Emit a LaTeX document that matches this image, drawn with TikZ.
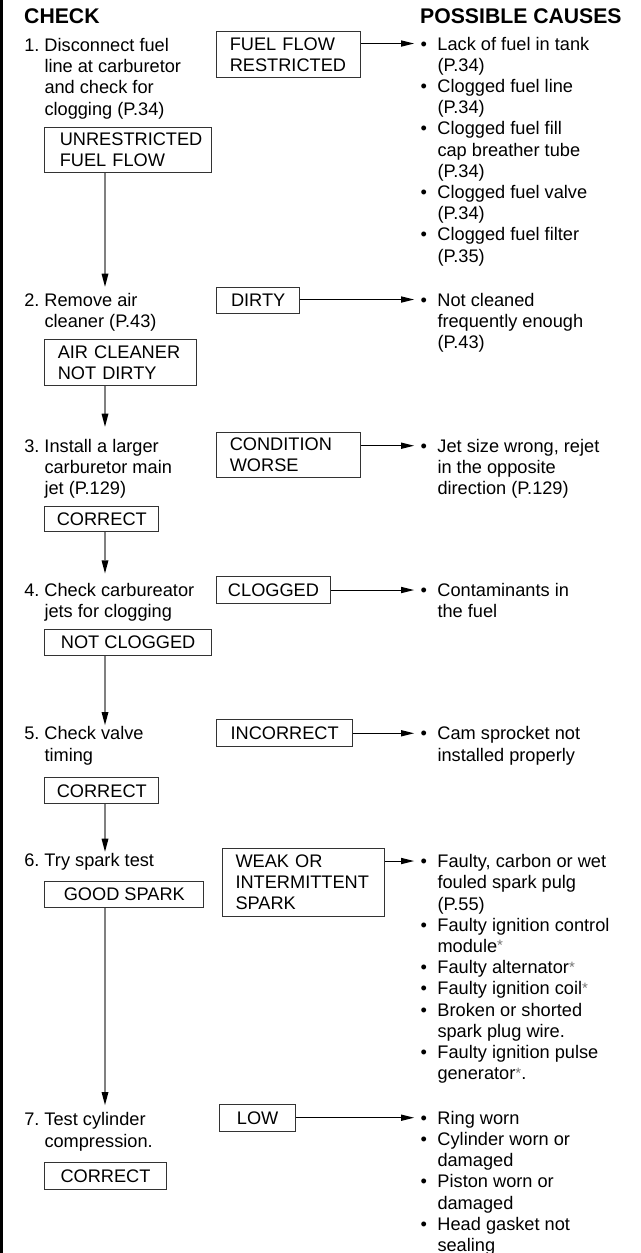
\documentclass[tikz,border=0pt]{standalone}
\usepackage{fontspec}
\setmainfont{Liberation Sans}
\usetikzlibrary{arrows.meta,positioning}

\newcommand{\bodyfont}{\fontsize{18.2pt}{21.2pt}\selectfont}
\newcommand{\headfont}{\fontsize{21.2pt}{24pt}\selectfont\bfseries}
\newcommand{\itm}{\llap{\textbullet\hspace{10.5pt}}}
\newcommand{\stepno}[1]{\llap{#1\ }}
\newcommand{\starmark}{\textcolor{black!55}{\fontsize{15pt}{15pt}\selectfont\raisebox{0.1em}{*}}}

\tikzset{
  check/.style={anchor=north west, inner sep=0pt, align=left, font=\bodyfont},
  cause/.style={anchor=north west, inner sep=0pt, align=left, font=\bodyfont},
  head/.style={anchor=base west, inner sep=0pt, font=\headfont},
  result/.style={draw=black!80, line width=1pt, anchor=north west, inner sep=0pt, font=\bodyfont},
  flow/.style={draw=black!50, line width=1.8pt,
    -{Triangle[length=13pt,width=7pt,color=black,fill=black,line width=0pt]}},
  lead/.style={draw=black, line width=0.9pt,
    -{Triangle[length=13pt,width=6.5pt,color=black,fill=black,line width=0pt]}},
}

\begin{document}
\begin{tikzpicture}[x=1pt,y=-1pt]
\useasboundingbox (0,0) rectangle (640,1253);
\fill[black] (0,0) rectangle (3,1253);

% Headings
\node[head] (hcheck) at (24,23.3) {CHECK};
\node[head] (hcause) at (420,23.3) {POSSIBLE CAUSES};

% Checks
\node[check] (s1) at (44.3,38.2) {\stepno{1.}Disconnect fuel\\line at carburetor\\and check for\\clogging (P.34)};
\node[check] (s2) at (44.3,293.2) {\stepno{2.}Remove air\\cleaner (P.43)};
\node[check] (s3) at (44.3,438.9) {\stepno{3.}Install a larger\\carburetor main\\jet (P.129)};
\node[check] (s4) at (44.3,583.2) {\stepno{4.}Check carbureator\\jets for clogging};
\node[check] (s5) at (44.3,726.5) {\stepno{5.}Check valve\\timing};
\node[check] (s6) at (44.3,853.2) {\stepno{6.}Try spark test};
\node[check] (s7) at (44.3,1112.5) {\stepno{7.}Test cylinder\\compression.};

% Results that pass
\node[result, minimum width=166.7pt, minimum height=45.3pt, inner xsep=15pt, text width=136.7pt, align=left] (b1) at (44.3,126.7) {UNRESTRICTED\\FUEL FLOW};
\node[result, minimum width=151.7pt, minimum height=45.4pt, inner xsep=13pt, text width=125.7pt, align=left] (b2) at (44.3,339.3) {AIR CLEANER\\NOT DIRTY};
\node[result, minimum width=114pt, minimum height=25.6pt] (b3) at (44.3,505.7) {CORRECT};
\node[result, minimum width=166.7pt, minimum height=26.3pt] (b4) at (44.3,629) {NOT CLOGGED};
\node[result, minimum width=114pt, minimum height=26pt] (b5) at (44.3,777.3) {CORRECT};
\node[result, minimum width=159pt, minimum height=26.3pt] (b6) at (44.3,881) {GOOD SPARK};
\node[result, minimum width=121.4pt, minimum height=27pt] (b7) at (44.3,1162.3) {CORRECT};

% Results that fail
\node[result, minimum width=144pt, minimum height=45.7pt, inner xsep=13.3pt, text width=117.4pt, align=left] (r1) at (216,31) {FUEL FLOW\\RESTRICTED};
\node[result, minimum width=83.3pt, minimum height=26.6pt] (r2) at (216,286.7) {DIRTY};
\node[result, minimum width=144pt, minimum height=45.6pt, inner xsep=13.3pt, text width=117.4pt, align=left] (r3) at (216,431.7) {CONDITION\\WORSE};
\node[result, minimum width=114pt, minimum height=27.3pt] (r4) at (216,576) {CLOGGED};
\node[result, minimum width=136.3pt, minimum height=26.7pt] (r5) at (216,719) {INCORRECT};
\node[result, minimum width=162.6pt, minimum height=67.7pt, inner xsep=13.3pt, text width=136pt, align=left] (r6) at (221.7,848) {WEAK OR\\INTERMITTENT\\SPARK};
\node[result, minimum width=75.7pt, minimum height=26.7pt] (r7) at (219.3,1104.3) {LOW};

% Arrow tips in front of the causes
\coordinate (t1) at (414,43.5);
\coordinate (t2) at (414,299.5);
\coordinate (t3) at (414,445.7);
\coordinate (t4) at (414,590);
\coordinate (t5) at (414,733.3);
\coordinate (t6) at (414,861);
\coordinate (t7) at (414,1117.7);

% Causes
\node[cause] (c1) at ([xshift=23.3pt,yshift=6.8pt]t1) {\itm Lack of fuel in tank\\(P.34)\\\itm Clogged fuel line\\(P.34)\\\itm Clogged fuel fill\\cap breather tube\\(P.34)\\\itm Clogged fuel valve\\(P.34)\\\itm Clogged fuel filter\\(P.35)};
\node[cause] (c2) at ([xshift=23.3pt,yshift=6.8pt]t2) {\itm Not cleaned\\frequently enough\\(P.43)};
\node[cause] (c3) at ([xshift=23.3pt,yshift=6.8pt]t3) {\itm Jet size wrong, rejet\\in the opposite\\direction (P.129)};
\node[cause] (c4) at ([xshift=23.3pt,yshift=6.8pt]t4) {\itm Contaminants in\\the fuel};
\node[cause] (c5) at ([xshift=23.3pt,yshift=6.8pt]t5) {\itm Cam sprocket not\\installed properly};
\node[cause] (c6) at ([xshift=23.3pt,yshift=6.8pt]t6) {\itm Faulty, carbon or wet\\fouled spark pulg\\(P.55)\\\itm Faulty ignition control\\module\starmark\\\itm Faulty alternator\starmark\\\itm Faulty ignition coil\starmark\\\itm Broken or shorted\\spark plug wire.\\\itm Faulty ignition pulse\\generator\starmark.};
\node[cause] (c7) at ([xshift=23.3pt,yshift=6.8pt]t7) {\itm Ring worn\\\itm Cylinder worn or\\damaged\\\itm Piston worn or\\damaged\\\itm Head gasket not\\sealing};

% Flow down the checks
\coordinate (col) at (105,0);
\draw[flow, shorten >=6.5pt] (b1.south -| col) -- (s2.north -| col);
\draw[flow, shorten >=12.2pt] (b2.south -| col) -- (s3.north -| col);
\draw[flow, shorten >=9.9pt] (b3.south -| col) -- (s4.north -| col);
\draw[flow, shorten >=1.5pt] (b4.south -| col) -- (s5.north -| col);
\draw[flow, shorten >=1.5pt] (b5.south -| col) -- (s6.north -| col);
\draw[flow, shorten >=7.5pt] (b6.south -| col) -- (s7.north -| col);

% Leads to the causes
\draw[lead] (r1.east |- t1) -- (t1);
\draw[lead] (r2.east |- t2) -- (t2);
\draw[lead] (r3.east |- t3) -- (t3);
\draw[lead] (r4.east |- t4) -- (t4);
\draw[lead] (r5.east |- t5) -- (t5);
\draw[lead] (r6.east |- t6) -- (t6);
\draw[lead] (r7.east |- t7) -- (t7);
\end{tikzpicture}
\end{document}
